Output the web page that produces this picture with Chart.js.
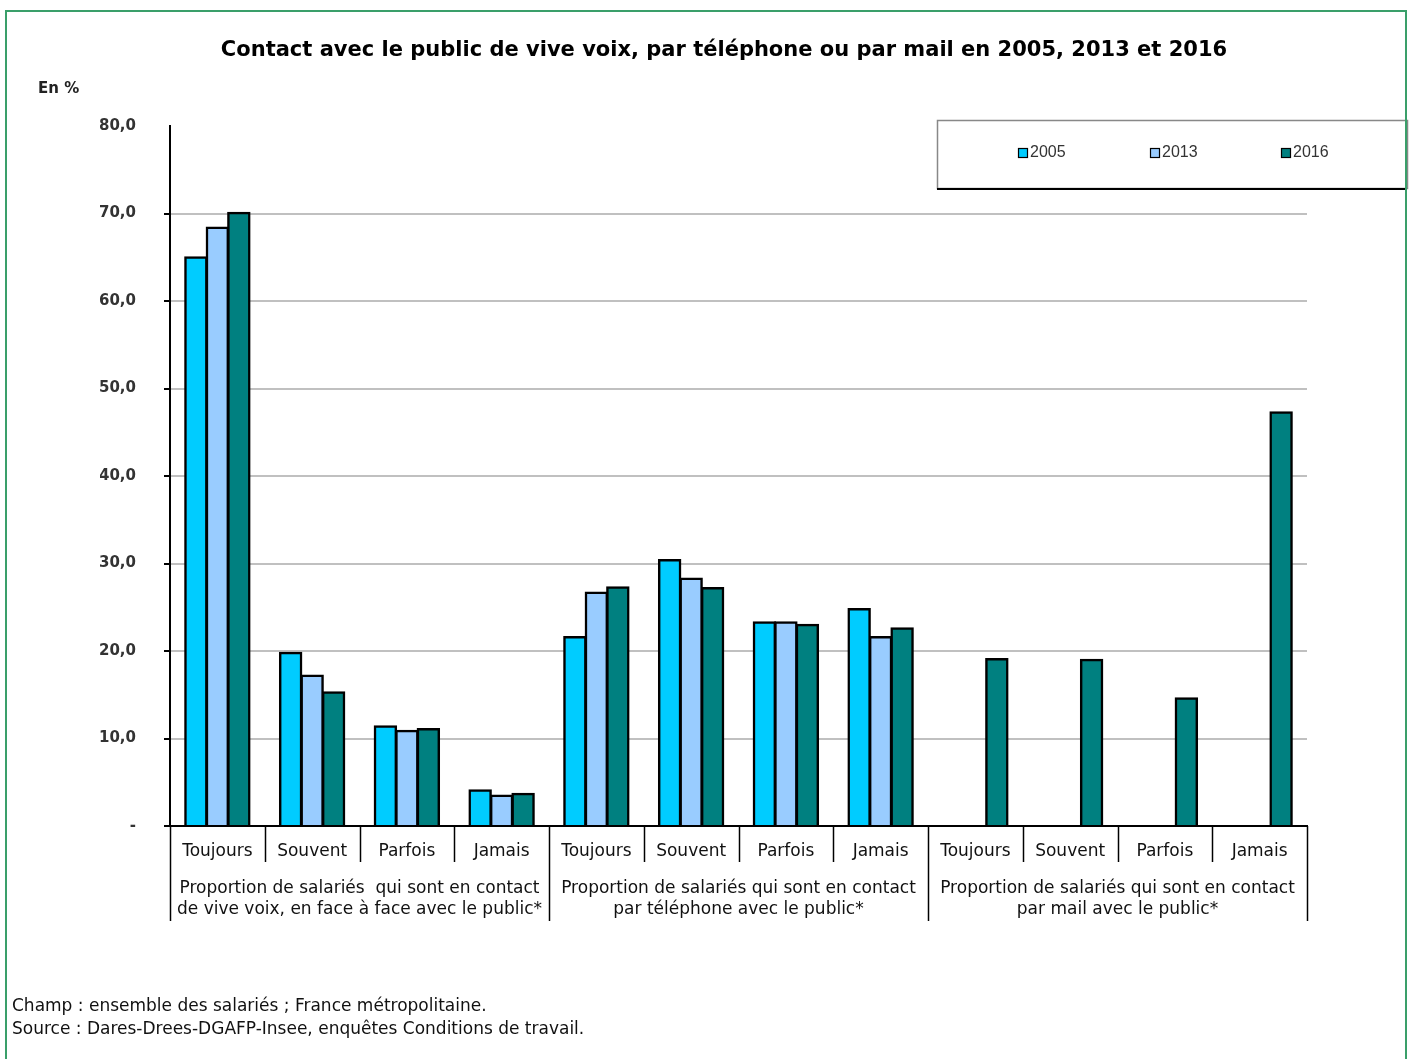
<!DOCTYPE html>
<html lang="fr">
<head>
<meta charset="utf-8">
<title>Contact avec le public</title>
<script src="https://cdn.jsdelivr.net/npm/chart.js@4/dist/chart.umd.min.js"></script>
<style>
  html, body { margin: 0; padding: 0; background: #fff; }
  body { width: 1410px; height: 1059px; position: relative; overflow: hidden; font-family: "DejaVu Sans", Verdana, sans-serif; }
  #cadre { position: absolute; left: 5px; top: 10px; width: 1402px; height: 1100px; border: 2.5px solid #3a9f6a; box-sizing: border-box; z-index: 2; }
  #graphique { position: absolute; left: 0; top: 0; }
  .texte { position: absolute; white-space: nowrap; color: #000; }
  #titre { left: 0; width: 1448px; top: 37px; text-align: center; font-weight: bold; font-size: 21px; }
  #unite { left: 38px; top: 79px; font-size: 15px; font-weight: bold; color: #222; }
  #notes { left: 12px; top: 994px; font-size: 17px; line-height: 23px; color: #111; }
</style>
</head>
<body>
<div id="cadre"></div>
<canvas id="graphique" width="1410" height="1059"></canvas>
<div class="texte" id="titre">Contact avec le public de vive voix, par téléphone ou par mail en 2005, 2013 et 2016</div>
<div class="texte" id="unite">En %</div>
<div class="texte" id="notes">Champ : ensemble des salariés ; France métropolitaine.<br>Source : Dares-Drees-DGAFP-Insee, enquêtes Conditions de travail.</div>
<script>
// Modalités (sous-catégories) et groupes
const modalites = ["Toujours", "Souvent", "Parfois", "Jamais",
                   "Toujours", "Souvent", "Parfois", "Jamais",
                   "Toujours", "Souvent", "Parfois", "Jamais"];
const groupes = [
    ["Proportion de salariés  qui sont en contact", "de vive voix, en face à face avec le public*"],
    ["Proportion de salariés qui sont en contact", "par téléphone avec le public*"],
    ["Proportion de salariés qui sont en contact", "par mail avec le public*"]
];
const annees = ["2005", "2013", "2016"];

// Valeurs en % (pas de mail en 2005 et 2013)
const valeurs2005 = [65.0, 19.8, 11.4, 4.1, 21.6, 30.4, 23.3, 24.8, null, null, null, null];
const valeurs2013 = [68.4, 17.2, 10.9, 3.5, 26.7, 28.3, 23.3, 21.6, null, null, null, null];
const valeurs2016 = [70.1, 15.3, 11.1, 3.7, 27.3, 27.2, 23.0, 22.6, 19.1, 19.0, 14.6, 47.3];

const couleurs = ["#00ccff", "#99ccff", "#008080"];

// Tableau sous l'axe des x + légende encadrée
const tableauAxe = {
    id: "tableauAxe",
    afterDraw(chart) {
        const ctx = chart.ctx;
        const xs = chart.scales.x;
        const area = chart.chartArea;
        const n = modalites.length;
        const w = (xs.right - xs.left) / n;
        const bas = area.bottom;

        ctx.save();
        ctx.strokeStyle = "#000";
        ctx.lineWidth = 1.5;
        for (let i = 0; i <= n; i++) {
            const x = Math.round(xs.left + i * w) + 0.5;
            ctx.beginPath();
            ctx.moveTo(x, bas);
            ctx.lineTo(x, i % 4 === 0 ? bas + 95 : bas + 36);
            ctx.stroke();
        }

        ctx.fillStyle = "#111";
        ctx.textAlign = "center";
        ctx.textBaseline = "middle";
        ctx.font = "17px 'DejaVu Sans'";
        modalites.forEach((m, i) => {
            ctx.fillText(m, xs.getPixelForValue(i), bas + 26);
        });
        groupes.forEach((lignes, g) => {
            const cx = xs.left + (g * 4 + 2) * w;
            lignes.forEach((l, k) => ctx.fillText(l, cx, bas + 63 + k * 21));
        });

        // légende
        const bx = 937, by = 120, bw = 470, bh = 68;
        ctx.fillStyle = "#fff";
        ctx.fillRect(bx, by, bw, bh);
        ctx.strokeStyle = "#888";
        ctx.lineWidth = 1.5;
        ctx.strokeRect(bx + 0.5, by + 0.5, bw, bh);
        ctx.strokeStyle = "#000";
        ctx.lineWidth = 2;
        ctx.beginPath();
        ctx.moveTo(bx, by + bh + 1);
        ctx.lineTo(bx + bw, by + bh + 1);
        ctx.stroke();

        ctx.font = "16px 'Liberation Sans'";
        ctx.textAlign = "left";
        const posX = [1018, 1150, 1281];
        chart.data.datasets.forEach((ds, i) => {
            ctx.fillStyle = ds.backgroundColor;
            ctx.fillRect(posX[i], 148, 9, 9);
            ctx.strokeStyle = "#000";
            ctx.lineWidth = 1.2;
            ctx.strokeRect(posX[i] + 0.5, 148.5, 9, 9);
            ctx.fillStyle = "#333";
            ctx.fillText(ds.label, posX[i] + 12, 153);
        });
        ctx.restore();
    }
};

document.addEventListener("DOMContentLoaded", () => {
    const canvas = document.getElementById("graphique");
    const ctx = canvas.getContext("2d");

    const series = [valeurs2005, valeurs2013, valeurs2016];

    new Chart(ctx, {
        type: "bar",
        data: {
            labels: modalites,
            datasets: annees.map((a, i) => ({
                label: a,
                data: series[i],
                backgroundColor: couleurs[i],
                borderColor: "#000",
                borderWidth: 2.5,
                borderSkipped: "bottom",
                inflateAmount: 1,
                categoryPercentage: 0.68,
                barPercentage: 1.0
            }))
        },
        options: {
            responsive: false,
            animation: false,
            devicePixelRatio: 1,
            layout: { padding: { left: 100, right: 103, top: 126, bottom: 233 } },
            plugins: {
                legend: { display: false },
                tooltip: { enabled: false }
            },
            scales: {
                x: {
                    ticks: { display: false },
                    grid: { display: false },
                    border: { color: "#000", width: 2 },
                    afterFit: s => { s.height = 0; }
                },
                y: {
                    min: 0,
                    max: 80,
                    ticks: {
                        stepSize: 10,
                        padding: 28,
                        color: "#333",
                        font: { family: "DejaVu Sans", size: 15, weight: "bold" },
                        callback: v => v === 0 ? "-" : v.toFixed(1).replace(".", ",")
                    },
                    grid: {
                        color: c => (c.tick && (c.tick.value === 80 || c.tick.value === 0)) ? "rgba(0,0,0,0)" : "#c0c0c0",
                        tickColor: c => (c.tick && c.tick.value === 80) ? "rgba(0,0,0,0)" : "#000",
                        lineWidth: 2,
                        tickLength: 6
                    },
                    border: { color: "#000", width: 2 },
                    afterFit: s => { s.width = 70; }
                }
            }
        },
        plugins: [tableauAxe]
    });
});
</script>
</body>
</html>
